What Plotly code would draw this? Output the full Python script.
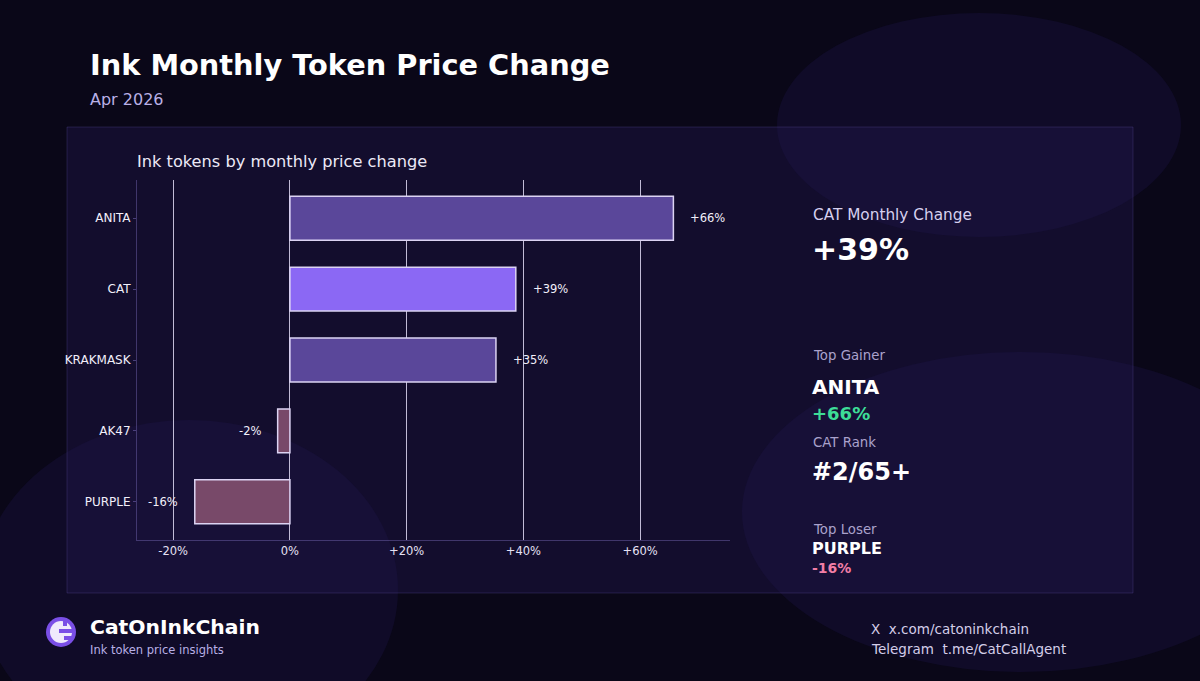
import plotly.graph_objects as go

W, H = 1200, 681

# data
tokens = ["ANITA", "CAT", "KRAKMASK", "AK47", "PURPLE"]
changes = [65.7, 38.7, 35.3, -2.1, -16.3]
x_ticks = [-20, 0, 20, 40, 60]
x_tick_labels = ["-20%", "0%", "+20%", "+40%", "+60%"]
focus_token = "CAT"
cat_rank = "#2/65+"

FONT = "DejaVu Sans, Verdana, sans-serif"
BG = "#0a0718"


def px(x):
    return x / W


def py(y):
    return 1 - y / H


def pct(v):
    return f"{v:+.0f}%" if v >= 0 else f"{v:.0f}%"


bar_colors = []
for t, v in zip(tokens, changes):
    if t == focus_token:
        bar_colors.append("#8b68f4")
    elif v >= 0:
        bar_colors.append("#5a479a")
    else:
        bar_colors.append("#784969")

fig = go.Figure()
fig.add_trace(go.Bar(
    x=changes, y=tokens, orientation="h",
    width=0.62,
    marker=dict(color=bar_colors, line=dict(color="#dcd3f3", width=1.5)),
    hoverinfo="skip",
))

shapes = []
# soft background blobs
for x0, y0, x1, y1 in [(777, 13, 1181, 237), (742, 352, 1300, 672), (-20, 420, 398, 760)]:
    shapes.append(dict(type="circle", xref="paper", yref="paper",
                       x0=px(x0), x1=px(x1), y0=py(y1), y1=py(y0),
                       fillcolor="rgba(40,30,105,0.20)", line=dict(width=0), layer="below"))
# card panel
shapes.append(dict(type="rect", xref="paper", yref="paper",
                   x0=px(67), x1=px(1133), y0=py(593), y1=py(127),
                   fillcolor="rgba(36,26,84,0.36)",
                   line=dict(color="rgba(120,100,200,0.22)", width=1), layer="below"))
# logo
cx, cy = 61, 632
shapes.append(dict(type="circle", xref="paper", yref="paper",
                   x0=px(cx - 15), x1=px(cx + 15), y0=py(cy + 15), y1=py(cy - 15),
                   fillcolor="#7a4fe6", line=dict(width=0)))
shapes.append(dict(type="circle", xref="paper", yref="paper",
                   x0=px(cx - 11), x1=px(cx + 11), y0=py(cy + 11), y1=py(cy - 11),
                   fillcolor="#efeafc", line=dict(width=0)))
for (ax0, ay0, ax1, ay1) in [(cx - 2, cy - 3, cx + 12, cy + 1), (cx + 3, cy + 4, cx + 12, cy + 8),
                             (cx + 2, cy - 11, cx + 6, cy - 6)]:
    shapes.append(dict(type="rect", xref="paper", yref="paper",
                       x0=px(ax0), x1=px(ax1), y0=py(ay1), y1=py(ay0),
                       fillcolor="#7a4fe6", line=dict(width=0)))

annotations = []


def label(x, y, text, size, color, bold=False, anchor="left"):
    annotations.append(dict(
        xref="paper", yref="paper", x=px(x), y=py(y), text=f"<b>{text}</b>" if bold else text,
        showarrow=False, xanchor=anchor, yanchor="middle",
        font=dict(family=FONT, size=size, color=color),
    ))


label(88, 65, "Ink Monthly Token Price Change", 28.8, "#ffffff", bold=True)
label(88, 99, "Apr 2026", 16, "#b9b0e6")
label(135, 161, "Ink tokens by monthly price change", 16.2, "#ece9f7")

# value labels next to bars
for t, v in zip(tokens, changes):
    annotations.append(dict(
        x=v, y=t, xref="x", yref="y", text=pct(v), showarrow=False,
        xanchor="left" if v >= 0 else "right", xshift=15 if v >= 0 else -15,
        font=dict(family=FONT, size=11.5, color="#f2effa"),
    ))

# side stats
focus_val = changes[tokens.index(focus_token)]
top_i = changes.index(max(changes))
low_i = changes.index(min(changes))
label(811, 215, f"{focus_token} Monthly Change", 15.3, "#d6d0ef")
label(810, 250, pct(focus_val), 30, "#ffffff", bold=True)
label(811, 356, "Top Gainer", 13.3, "#aaa2cc")
label(810, 387, tokens[top_i], 20, "#ffffff", bold=True)
label(810, 414, pct(changes[top_i]), 18, "#3ddc97", bold=True)
label(811, 442, f"{focus_token} Rank", 13.3, "#aaa2cc")
label(810, 472, cat_rank, 24, "#ffffff", bold=True)
label(811, 529, "Top Loser", 13.3, "#aaa2cc")
label(810, 548, tokens[low_i], 16, "#ffffff", bold=True)
label(810, 568, pct(changes[low_i]), 14, "#f27ea6", bold=True)

# footer
label(88, 627, "CatOnInkChain", 20.3, "#ffffff", bold=True)
label(88, 650, "Ink token price insights", 11.5, "#b9b0e6")
label(869, 629, "X  x.com/catoninkchain", 13.5, "#d4cee9")
label(869, 649, "Telegram  t.me/CatCallAgent", 13.5, "#d4cee9")

fig.update_layout(
    width=W, height=H,
    margin=dict(l=0, r=0, t=0, b=0),
    paper_bgcolor=BG, plot_bgcolor="rgba(0,0,0,0)",
    showlegend=False,
    shapes=shapes, annotations=annotations,
    font=dict(family=FONT, color="#e6e1f4"),
    xaxis=dict(
        domain=[px(137), px(730)], range=[-26.2, 75.4],
        tickvals=x_ticks, ticktext=x_tick_labels,
        showgrid=True, gridcolor="rgba(225,218,245,0.85)", gridwidth=1,
        zeroline=False, showline=True, linecolor="rgba(110,95,170,0.5)", linewidth=1,
        ticks="", tickfont=dict(size=11.5, color="#e6e1f4"), fixedrange=True,
    ),
    yaxis=dict(
        domain=[py(540), py(180)], range=[4.54, -0.54],
        categoryorder="array", categoryarray=tokens,
        showgrid=False, zeroline=False,
        showline=True, linecolor="rgba(110,95,170,0.5)", linewidth=1,
        ticks="outside", ticklen=3, tickcolor="rgba(110,95,170,0.6)",
        tickfont=dict(size=12, color="#f2effa"), fixedrange=True,
    ),
)

fig.write_html(
    "out.html",
    config={"displayModeBar": False},
    post_script="document.body.style.margin='0';document.body.style.background='%s';" % BG,
)
